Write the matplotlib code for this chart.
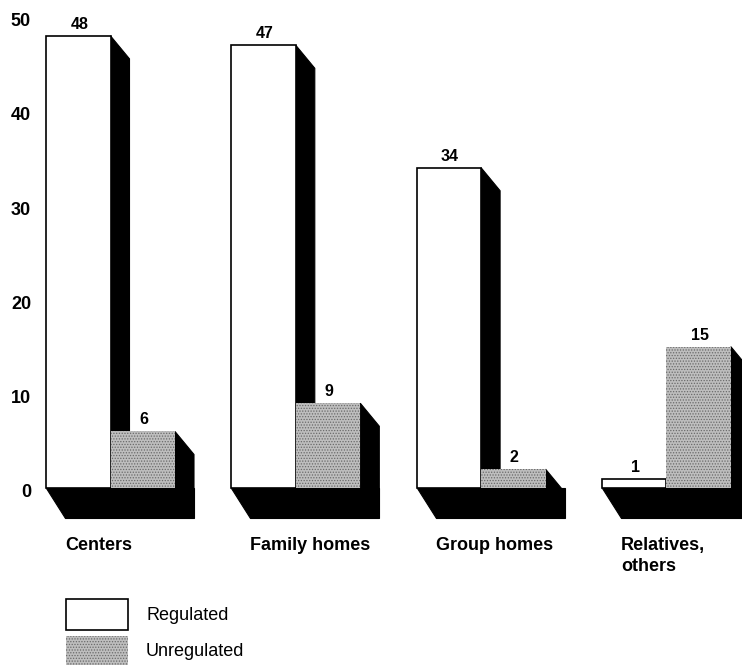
import numpy as np
import matplotlib
matplotlib.use('Agg')
import matplotlib.pyplot as plt
from matplotlib.patches import Polygon, Rectangle

#------------------------------------------------------------
categories = ['Centers', 'Family homes', 'Group homes', 'Relatives,\nothers']
regulated = [48, 47, 34, 1]
unregulated = [6, 9, 2, 15]
yticks = [0, 10, 20, 30, 40, 50]
legend_labels = ['Regulated', 'Unregulated']
#------------------------------------------------------------

W, H = 742, 665
PX_X = 185.3   # pixels per group
PX_Y = 9.42    # pixels per unit
X0_PX = 46     # left of first group
Y0_PX = 488    # y=0 from top

BAR_W = 64.5 / PX_X
DX = 19 / PX_X
DY_TOP = 23 / PX_Y
DEPTH = 30 / PX_Y

GRAY = '#bebebe'
HATCH_COL = '#6a6a6a'

plt.rcParams['font.family'] = ['Liberation Sans', 'DejaVu Sans']
plt.rcParams['hatch.linewidth'] = 0.6

fig = plt.figure(figsize=(W / 100, H / 100), dpi=100)
ax = fig.add_axes([0, 0, 1, 1])
ax.set_xlim(-X0_PX / PX_X, (W - X0_PX) / PX_X)
ax.set_ylim(-(H - Y0_PX) / PX_Y, Y0_PX / PX_Y)
ax.axis('off')

x = np.arange(len(categories))

def side_shadow(xr, top):
    return Polygon([(xr, top), (xr + DX, top - DY_TOP), (xr + DX, -DEPTH),
                    (xr, -DEPTH)], closed=True, facecolor='black',
                   edgecolor='black', lw=0.8, zorder=1)

for i in range(len(categories)):
    left = x[i]
    right = left + 2 * BAR_W
    # floor shadow
    ax.add_patch(Polygon([(left, 0), (right, 0), (right + DX, 0),
                          (right + DX, -DEPTH), (left + DX, -DEPTH)],
                         closed=True, facecolor='black', edgecolor='black',
                         lw=0.8, zorder=1))
    ax.add_patch(side_shadow(left + BAR_W, regulated[i]))
    ax.add_patch(side_shadow(right, unregulated[i]))

b1 = ax.bar(x, regulated, width=BAR_W, align='edge', color='white',
            edgecolor='black', linewidth=1.2, zorder=2)
b2 = ax.bar(x + BAR_W, unregulated, width=BAR_W, align='edge', color=GRAY,
            edgecolor=HATCH_COL, linewidth=0, hatch='......', zorder=3)

for bars, vals in ((b1, regulated), (b2, unregulated)):
    for r, v in zip(bars, vals):
        ax.annotate(str(v), (r.get_x() + r.get_width() / 2, v),
                    xytext=(1, 4), textcoords='offset pixels', ha='center',
                    va='bottom', fontsize=11.5, fontweight='bold', zorder=5)

for t in yticks:
    ax.text(-15 / PX_X, t - 0.5, str(t), ha='right', va='center',
            fontsize=13, fontweight='bold')

for i, c in enumerate(categories):
    ax.annotate(c, (x[i] + DX, -DEPTH), xytext=(0, -19),
                textcoords='offset pixels', ha='left', va='top',
                fontsize=13, fontweight='bold', linespacing=1.3)

# legend
box_styles = [dict(facecolor='white', edgecolor='black', lw=1.2),
              dict(facecolor=GRAY, edgecolor=HATCH_COL, lw=0, hatch='......')]
box_tops = [599, 636]
for lab, st, top in zip(legend_labels, box_styles, box_tops):
    fig.patches.append(Rectangle((66 / W, (H - top - 31) / H), 62 / W, 31 / H,
                                 transform=fig.transFigure, figure=fig, **st))
    fig.text(146 / W, (H - top - 16) / H, lab, ha='left', va='center',
             fontsize=13)

fig.savefig('out.png', dpi=100)
